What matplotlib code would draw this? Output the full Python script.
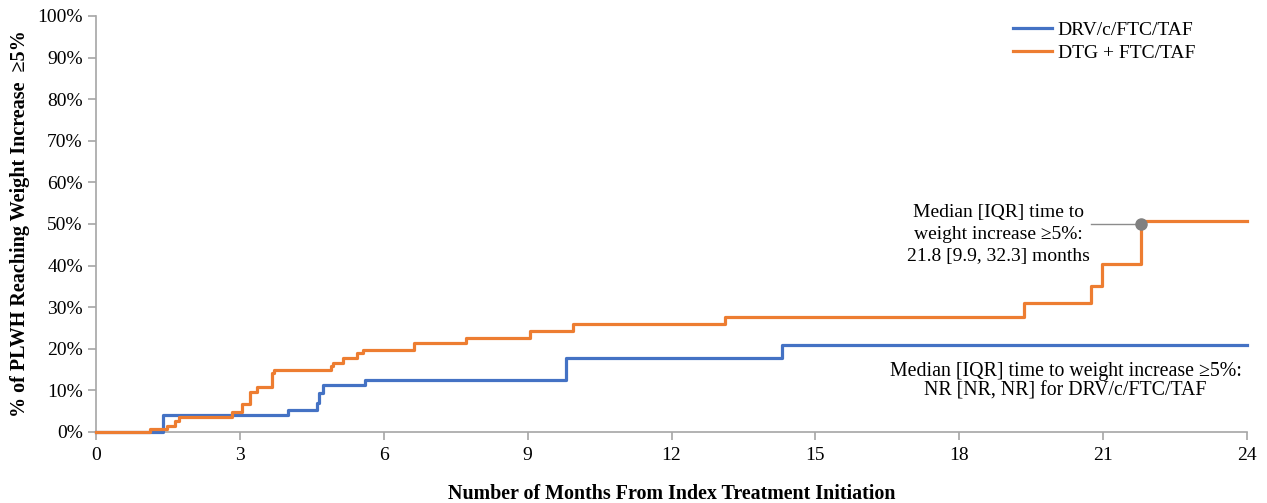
import matplotlib.pyplot as plt
from matplotlib.ticker import FuncFormatter

# cumulative % reaching >=5% weight increase, step points (months, %)
drv_months = [0, 1.40, 4.00, 4.60, 4.64, 4.74, 5.61, 9.79, 14.31, 24]
drv_pct = [0, 4.0, 5.3, 6.9, 9.4, 11.2, 12.6, 17.9, 21.0, 21.0]

dtg_months = [0, 1.13, 1.47, 1.65, 1.72, 2.83, 3.04, 3.21, 3.35, 3.66, 3.71,
              4.89, 4.95, 5.16, 5.45, 5.57, 6.62, 7.71, 9.05, 9.95, 13.11,
              19.34, 20.75, 20.98, 21.8, 24]
dtg_pct = [0, 0.8, 1.4, 2.6, 3.5, 4.9, 6.7, 9.7, 10.9, 14.1, 14.9,
           15.9, 16.5, 17.7, 18.9, 19.7, 21.3, 22.5, 24.3, 26.0, 27.7,
           31.1, 35.1, 40.4, 50.6, 50.6]

median_dtg = 21.8
median_level = 50
leader_start = 20.75

x_ticks = list(range(0, 25, 3))
y_ticks = list(range(0, 101, 10))

BLUE = '#4472C4'
ORANGE = '#ED7D31'
GREY = '#A6A6A6'

plt.rcParams['font.family'] = ['Liberation Serif', 'DejaVu Serif']

fig = plt.figure(figsize=(12.67, 5.03), dpi=100)
ax = fig.add_axes([0.0758, 0.1412, 0.9084, 0.827])

ax.step(drv_months, drv_pct, where='post', color=BLUE, lw=2.3, label='DRV/c/FTC/TAF',
        zorder=3, clip_on=False)
ax.step(dtg_months, dtg_pct, where='post', color=ORANGE, lw=2.3, label='DTG + FTC/TAF',
        zorder=3, clip_on=False)

# median marker with leader line
ax.plot([leader_start, median_dtg], [median_level, median_level], color='#8C8C8C', lw=1, zorder=4)
ax.plot([median_dtg], [median_level], 'o', color='#808080', ms=8, zorder=5)

ax.text(18.82, 47.5, 'Median [IQR] time to\nweight increase \u22655%:\n21.8 [9.9, 32.3] months',
        ha='center', va='center', fontsize=14, linespacing=1.4)
ax.text(20.22, 12.2, 'Median [IQR] time to weight increase \u22655%:\nNR [NR, NR] for DRV/c/FTC/TAF',
        ha='center', va='center', fontsize=14.3, linespacing=1.06)

ax.set_xlim(0, 24)
ax.set_ylim(0, 100)
ax.set_xticks(x_ticks)
ax.set_yticks(y_ticks)
ax.yaxis.set_major_formatter(FuncFormatter(lambda v, p: '%d%%' % v))

for side in ['top', 'right']:
    ax.spines[side].set_visible(False)
for side in ['left', 'bottom']:
    ax.spines[side].set_color(GREY)
    ax.spines[side].set_linewidth(1.2)
ax.tick_params(axis='both', colors=GREY, length=6, width=1.2, labelsize=14, labelcolor='black')
ax.tick_params(axis='x', pad=5)

ax.set_xlabel('Number of Months From Index Treatment Initiation', fontsize=14.4,
              fontweight='bold', labelpad=14)
ax.set_ylabel('% of PLWH Reaching Weight Increase  \u22655%', fontsize=14.5,
              fontweight='bold', labelpad=5)

ax.legend(loc='upper right', bbox_to_anchor=(0.97, 1.03), frameon=False, fontsize=14,
          handlelength=2.0, handletextpad=0.3, labelspacing=0.3)

fig.savefig('out.png', dpi=100)
